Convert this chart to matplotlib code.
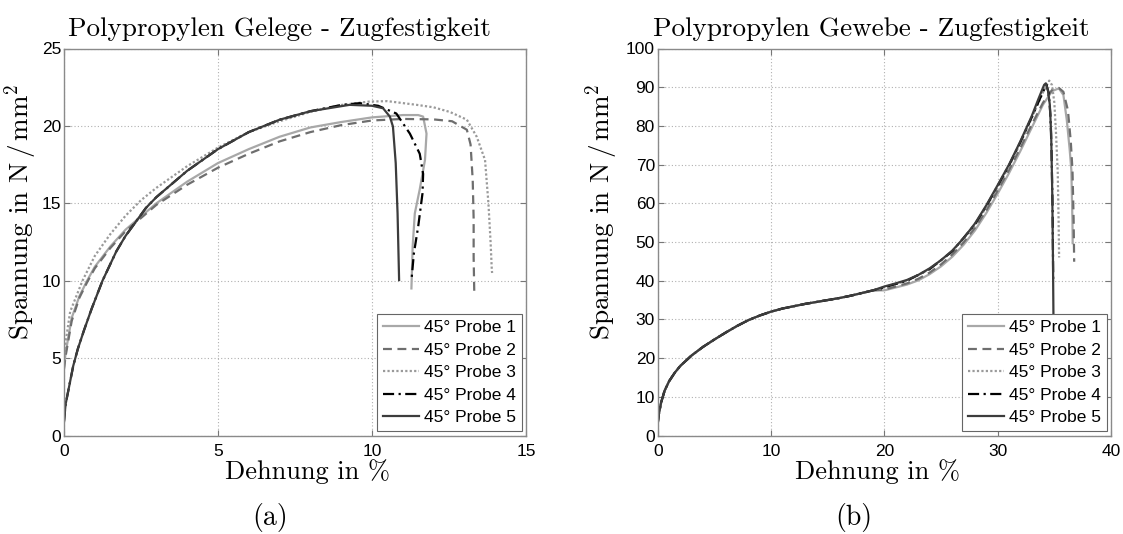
import matplotlib
matplotlib.use('Agg')
import matplotlib.pyplot as plt

plt.rcParams['mathtext.fontset'] = 'cm'

# Gelege (left) - Dehnung in %, Spannung in N/mm^2
gel_x1 = [0, 0.05, 0.25, 0.5, 0.75, 1, 1.5, 2, 3, 4, 5, 6, 7, 8, 9, 10, 11, 11.5, 11.66, 11.77, 11.72, 11.55, 11.39, 11.32, 11.28]
gel_y1 = [4.4, 5.3, 7.6, 9.0, 10.0, 10.9, 12.2, 13.3, 15.0, 16.4, 17.6, 18.5, 19.3, 19.9, 20.25, 20.55, 20.7, 20.7, 20.6, 19.5, 17.8, 15.9, 14.35, 12.2, 9.5]
gel_x2 = [0, 0.05, 0.25, 0.5, 0.75, 1, 1.5, 2, 3, 4, 5, 6, 7, 8, 9, 10, 11, 12, 12.6, 13.08, 13.2, 13.27, 13.3, 13.3, 13.32]
gel_y2 = [4.3, 5.1, 7.4, 8.9, 9.9, 10.8, 12.1, 13.2, 14.9, 16.2, 17.3, 18.2, 19.0, 19.6, 20.05, 20.35, 20.45, 20.42, 20.3, 19.75, 18.8, 16.5, 14.0, 11.5, 9.3]
gel_x3 = [0, 0.05, 0.2, 0.6, 1, 1.5, 2, 2.5, 3, 4, 5, 6, 7, 8, 9, 9.9, 10.5, 11.45, 12.0, 12.53, 13.08, 13.4, 13.67, 13.78, 13.85, 13.89, 13.9]
gel_y3 = [5.0, 6.0, 8.0, 10.0, 11.6, 13.0, 14.2, 15.2, 16.0, 17.4, 18.6, 19.6, 20.3, 20.9, 21.35, 21.57, 21.6, 21.36, 21.2, 20.9, 20.4, 19.3, 17.8, 15.0, 12.5, 10.7, 10.5]
gel_x4 = [0, 0.05, 0.15, 0.3, 0.45, 0.65, 0.9, 1.25, 1.7, 2, 2.66, 3, 4, 5, 6, 7, 8, 9, 9.6, 10.2, 10.79, 11.23, 11.55, 11.66, 11.64, 11.5, 11.36, 11.28]
gel_y4 = [0.9, 2.0, 3.0, 4.5, 5.6, 6.8, 8.2, 10.0, 11.9, 12.9, 14.7, 15.4, 17.1, 18.5, 19.6, 20.4, 20.95, 21.35, 21.47, 21.3, 20.8, 19.5, 18.2, 16.9, 15.65, 13.5, 11.77, 10.0]
gel_x5 = [0, 0.05, 0.15, 0.3, 0.45, 0.65, 0.9, 1.25, 1.7, 2, 2.66, 3, 4, 5, 6, 7, 8, 9.27, 10.0, 10.36, 10.58, 10.68, 10.77, 10.83, 10.88]
gel_y5 = [0.9, 2.0, 3.0, 4.5, 5.6, 6.8, 8.2, 10.0, 11.9, 12.9, 14.7, 15.4, 17.1, 18.5, 19.6, 20.4, 20.95, 21.36, 21.3, 21.14, 20.6, 19.96, 17.6, 14.35, 10.04]

# Gewebe (right)
gew_common_x = [0, 0.1, 0.3, 0.6, 1, 1.5, 2, 3, 4, 5, 6, 7, 8, 9, 10, 11, 12, 13, 14, 15, 16, 17, 18, 19]
gew_common_y = [3.0, 5.5, 8.5, 11.5, 14.0, 16.2, 18.0, 20.7, 22.9, 24.8, 26.6, 28.3, 29.8, 31.0, 32.0, 32.8, 33.4, 34.0, 34.5, 35.0, 35.5, 36.1, 36.8, 37.5]
gew_x1 = [20, 22, 23, 24, 25, 26, 27, 28, 29, 30, 31, 32, 33, 34, 34.8, 35.4, 35.8, 36.1, 36.35, 36.5, 36.6, 36.62]
gew_y1 = [37.5, 39.0, 40.1, 41.7, 43.7, 46.2, 49.3, 53.0, 57.5, 62.5, 67.8, 73.5, 79.5, 85.5, 89.0, 89.7, 88.0, 81.5, 74.0, 68.6, 55.0, 49.7]
gew_x2 = [20, 22, 23, 24, 25, 26, 27, 28, 29, 30, 31, 32, 33, 34, 34.8, 35.4, 35.8, 36.2, 36.45, 36.6, 36.7, 36.75]
gew_y2 = [37.7, 39.3, 40.5, 42.1, 44.2, 46.8, 49.9, 53.7, 58.2, 63.3, 68.6, 74.3, 80.3, 86.0, 89.3, 89.8, 88.8, 84.0, 76.0, 68.6, 56.0, 44.9]
gew_x3 = [20, 22, 24, 26, 28, 29, 30, 31, 32, 33, 34, 34.55, 34.8, 35.0, 35.15, 35.3, 35.38, 35.42]
gew_y3 = [38.3, 40.0, 43.0, 47.6, 54.3, 59.0, 64.2, 69.5, 75.5, 82.0, 88.7, 91.7, 90.5, 86.0, 78.0, 68.0, 55.0, 46.0]
gew_x4 = [20, 22, 24, 26, 28, 29, 30, 31, 32, 33, 33.8, 34.3, 34.5, 34.65, 34.75, 34.85, 34.9]
gew_y4 = [38.3, 40.0, 43.0, 47.6, 54.6, 59.3, 64.5, 69.8, 75.8, 82.2, 87.5, 90.7, 88.5, 83.0, 74.0, 58.0, 40.0]
gew_x5 = [20, 21, 22, 23, 24, 25, 26, 27, 28, 29, 30, 31, 32, 33, 33.6, 34.1, 34.25, 34.45, 34.6, 34.72, 34.82, 34.88, 34.93]
gew_y5 = [38.5, 39.3, 40.2, 41.5, 43.2, 45.3, 47.8, 51.0, 54.8, 59.5, 64.7, 70.0, 76.0, 82.5, 87.0, 90.6, 91.0, 89.0, 85.5, 78.0, 62.0, 45.0, 28.0]

labels = ['45° Probe 1', '45° Probe 2', '45° Probe 3', '45° Probe 4', '45° Probe 5']
colors = ['#a8a8a8', '#6e6e6e', '#9a9a9a', '#000000', '#3c3c3c']
styles = ['-', (0, (4, 2.5)), (0, (1, 1)), (0, (5, 2, 1, 2)), '-']

serif = 'cmr10'
sans = 'Liberation Sans'
W, H = 1123, 534

fig = plt.figure(figsize=(11.23, 5.34), dpi=100)
ax1 = fig.add_axes([64 / W, 1 - 435.5 / H, 462 / W, 387 / H])
ax2 = fig.add_axes([657.7 / W, 1 - 435.5 / H, 453.3 / W, 387 / H])

gel = [(gel_x1, gel_y1), (gel_x2, gel_y2), (gel_x3, gel_y3), (gel_x4, gel_y4), (gel_x5, gel_y5)]
gew = [(gew_common_x + gew_x1, gew_common_y + gew_y1),
       (gew_common_x + gew_x2, gew_common_y + gew_y2),
       (gew_common_x + gew_x3, gew_common_y + gew_y3),
       (gew_common_x + gew_x4, gew_common_y + gew_y4),
       (gew_common_x + gew_x5, gew_common_y + gew_y5)]

def style_axes(ax, data, xmax, ymax, xstep, ystep, title, tx, xl):
    for (x, y), lab, c, ls in zip(data, labels, colors, styles):
        ax.plot(x, y, color=c, linestyle=ls, linewidth=1.6, label=lab)
    ax.set_xlim(0, xmax)
    ax.set_ylim(0, ymax)
    ax.set_xticks(range(0, xmax + 1, xstep))
    ax.set_yticks(range(0, ymax + 1, ystep))
    ax.grid(True, color='#b0b0b0', linestyle=(0, (1, 2)), linewidth=0.8)
    ax.tick_params(direction='in', top=True, right=True, length=4, color='#777777',
                   labelsize=12.5)
    ax.tick_params(axis='x', pad=6)
    ax.tick_params(axis='y', pad=2)
    for t in ax.get_xticklabels() + ax.get_yticklabels():
        t.set_fontfamily(sans)
    for s in ax.spines.values():
        s.set_color('#8a8a8a')
        s.set_linewidth(1.0)
    ax.set_title(title, fontfamily=serif, fontsize=19.5, pad=9, x=tx)
    ax.set_xlabel('Dehnung in %', fontfamily=serif, fontsize=19, labelpad=2)
    ax.xaxis.set_label_coords(xl, -0.06)
    leg = ax.legend(loc='lower right', prop={'family': sans, 'size': 12.5},
                    fancybox=False, framealpha=1, edgecolor='#666666',
                    borderaxespad=0.25, handlelength=2.1, handletextpad=0.25,
                    labelspacing=0.42, borderpad=0.35)
    leg.get_frame().set_linewidth(0.8)

style_axes(ax1, gel, 15, 25, 5, 5, 'Polypropylen Gelege - Zugfestigkeit', 0.466, 0.528)
style_axes(ax2, gew, 40, 100, 10, 10, 'Polypropylen Gewebe - Zugfestigkeit', 0.472, 0.485)

ylab = 'Spannung in N$\\,/\\,$mm$^2$'
fig.text(21 / W, 1 - 212 / H, ylab, fontfamily=serif, fontsize=19.5, rotation=90,
         ha='center', va='center')
fig.text(602 / W, 1 - 212 / H, ylab, fontfamily=serif, fontsize=19.5, rotation=90,
         ha='center', va='center')

fig.text(270.5 / W, 1 - 518 / H, '(a)', fontfamily=serif, fontsize=20, ha='center', va='center')
fig.text(854 / W, 1 - 518 / H, '(b)', fontfamily=serif, fontsize=20, ha='center', va='center')

fig.savefig('out.png', dpi=100)
